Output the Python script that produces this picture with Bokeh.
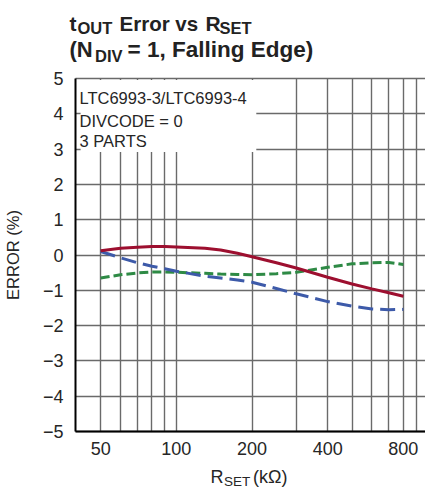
import math
from bokeh.plotting import figure
from bokeh.models import FixedTicker, BoxAnnotation, Label, Range1d
from bokeh.embed import file_html
from bokeh.resources import INLINE

# ---- data ----
rset = [50, 60, 70, 80, 90, 100, 130, 150, 175, 200, 250, 300, 400, 500, 600, 700, 800]
part_red = [0.12, 0.19, 0.22, 0.24, 0.24, 0.23, 0.19, 0.14, 0.05, -0.05, -0.22, -0.37, -0.63, -0.82, -0.96, -1.07, -1.17]
part_green = [-0.65, -0.56, -0.51, -0.48, -0.48, -0.49, -0.52, -0.54, -0.55, -0.56, -0.53, -0.49, -0.35, -0.25, -0.22, -0.21, -0.27]
part_blue = [0.10, -0.08, -0.22, -0.32, -0.39, -0.46, -0.60, -0.65, -0.71, -0.77, -0.95, -1.10, -1.32, -1.45, -1.53, -1.55, -1.54]
x_major = [50, 100, 200, 400, 800]
x_minor = [60, 70, 80, 90, 300, 500, 600, 700, 900]
y_ticks = [-5, -4, -3, -2, -1, 0, 1, 2, 3, 4, 5]
y_tick_labels = {t: (str(t) if t >= 0 else "\u2212" + str(-t)) for t in y_ticks}
box_lines = ["LTC6993-3/LTC6993-4", "DIVCODE = 0", "3 PARTS"]

# ---- layout constants (pixels) ----
W, H = 425, 492
FL, FR, FT, FB = 75, 425, 78, 431          # plot-area edges on the canvas
X0, X1 = 39.7, 980.0                        # x values at the plot-area edges
Y0, Y1 = -5.0, 5.0
px_oct = (FR - FL) / math.log2(X1 / X0)
px_unit = (FB - FT) / (Y1 - Y0)
xr = Range1d(X0 / 2 ** (FL / px_oct), X1 * 2 ** ((W - FR) / px_oct))
yr = Range1d(Y0 - (H - FB) / px_unit, Y1 + FT / px_unit)

FONT = "Liberation Sans"
GRID = "#6a6a6a"
TXT = "#262626"

p = figure(width=W, height=H, x_axis_type="log", x_range=xr, y_range=yr,
           output_backend="svg", toolbar_location=None,
           min_border=0)
p.outline_line_color = None
p.background_fill_color = "white"

# axes drawn at the plot-area edges
p.xaxis.fixed_location = Y0
p.yaxis.fixed_location = X0
p.xaxis.bounds = (X0, X1)
p.yaxis.bounds = (Y0, Y1)
p.xaxis.ticker = FixedTicker(ticks=x_major, minor_ticks=x_minor)
p.xaxis.major_label_overrides = {t: str(t) for t in x_major}
p.yaxis.ticker = FixedTicker(ticks=y_ticks)
p.yaxis.major_label_overrides = y_tick_labels
for ax in (p.xaxis, p.yaxis):
    ax.axis_line_color = "black"
    ax.axis_line_width = 2
    ax.major_tick_out = 0
    ax.major_tick_in = 0
    ax.minor_tick_out = 0
    ax.minor_tick_in = 0
    ax.major_label_text_font = FONT
    ax.major_label_text_font_size = "18px"
    ax.major_label_text_color = TXT
p.xaxis.major_label_standoff = 10
p.yaxis.major_label_standoff = 12
p.yaxis.axis_label = "ERROR (%)"
p.yaxis.axis_label_text_font = FONT
p.yaxis.axis_label_text_font_size = "16.5px"
p.yaxis.axis_label_text_font_style = "normal"
p.yaxis.axis_label_text_color = TXT
p.yaxis.axis_label_standoff = 18

p.xgrid.grid_line_color = GRID
p.xgrid.grid_line_width = 1.4
p.xgrid.minor_grid_line_color = GRID
p.xgrid.minor_grid_line_width = 1.4
p.xgrid.cross_bounds = (Y0, Y1)
p.ygrid.grid_line_color = GRID
p.ygrid.grid_line_width = 1.4
p.ygrid.cross_bounds = (X0, X1)

# white box behind notes
p.add_layout(BoxAnnotation(left=41.6, right=208, bottom=2.92, top=4.96,
                           fill_color="white", fill_alpha=1.0, line_color=None,
                           level="underlay"))

# curves
p.line(rset, part_green, line_color="#2e8a45", line_width=3, line_dash="9 4")
p.line(rset, part_blue, line_color="#3d5aa9", line_width=3, line_dash="15 7")
p.line(rset, part_red, line_color="#9d0f2f", line_width=3)

DX, DY = -4, -4   # compensation for label rendering offset


def txt(s, X, Y, size, style="normal", color="#222222"):
    p.add_layout(Label(x=X + DX, y=H - (Y + DY), x_units="screen", y_units="screen",
                       text=s, text_font=FONT, text_font_size=f"{size}px",
                       text_font_style=style, text_color=color,
                       text_baseline="alphabetic", text_align="left"))


# title
txt("t", 73, 26.7, 21, style="bold")
txt("OUT", 81, 31, 16.5, style="bold")
txt("Error vs", 123, 26.7, 20.5, style="bold")
txt("R", 209, 26.7, 21, style="bold")
txt("SET", 223, 31, 16.5, style="bold")
txt("(N", 73, 53.3, 22, style="bold")
txt("DIV", 98.5, 59, 16.5, style="bold")
txt("= 1, Falling Edge)", 131, 53.3, 22.5, style="bold")

# notes
for line, yb in zip(box_lines, [101.5, 124, 144.5]):
    txt(line, 83, yb, 16.5, color=TXT)

# x axis label
txt("R", 214, 480.7, 18, color=TXT)
txt("SET", 227.5, 485, 13.5, color=TXT)
txt("(k\u03a9)", 256.5, 480.7, 18, color=TXT)

open("out.html", "w").write(file_html(p, INLINE))
